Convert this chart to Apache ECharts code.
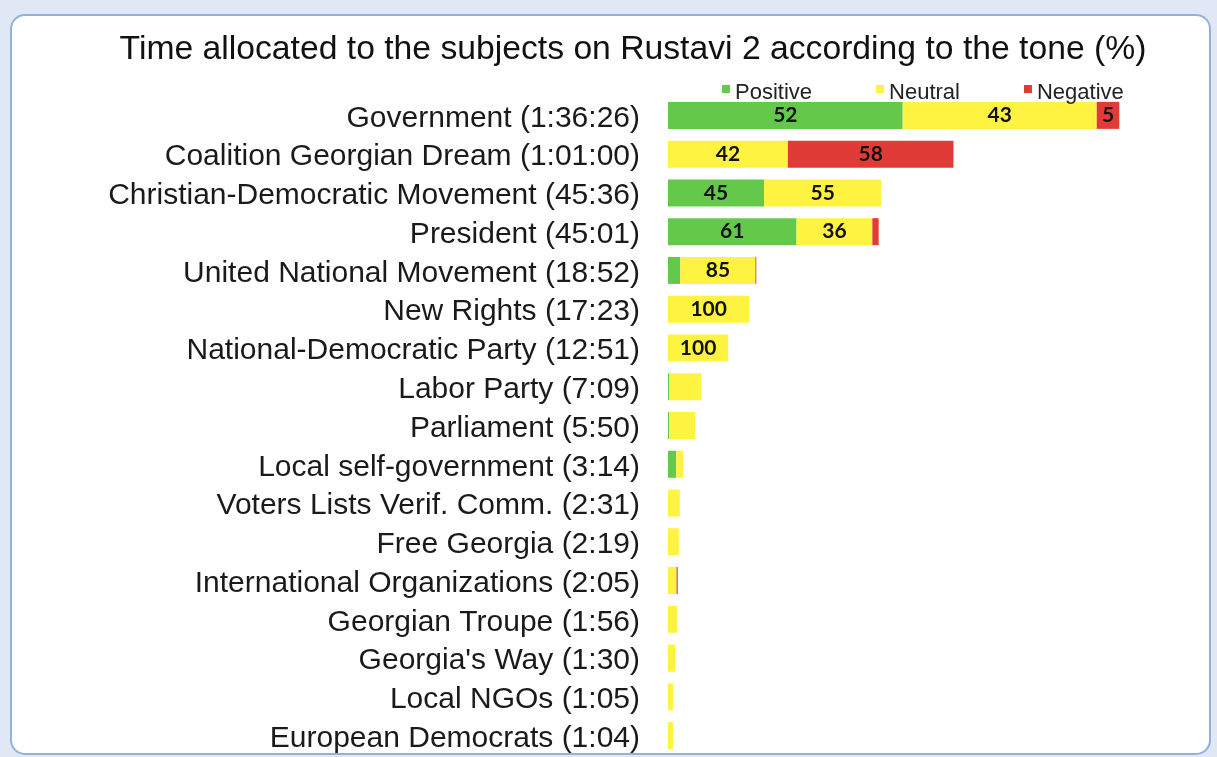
<!DOCTYPE html>
<html>
<head>
<meta charset="utf-8">
<script src="https://cdn.jsdelivr.net/npm/echarts@6/dist/echarts.min.js"></script>
<style>
    html, body { margin: 0; padding: 0; background: #dfe8f4; }
    #chart { width: 1217px; height: 757px; }
</style>
</head>
<body>
<div id="chart"></div>
<script>
// subjects, top to bottom
const subjects = [
    'Government', 'Coalition Georgian Dream', 'Christian-Democratic Movement', 'President',
    'United National Movement', 'New Rights', 'National-Democratic Party', 'Labor Party',
    'Parliament', 'Local self-government', 'Voters Lists Verif. Comm.', 'Free Georgia',
    'International Organizations', 'Georgian Troupe', "Georgia's Way", 'Local NGOs',
    'European Democrats'
];
// airtime (h:mm:ss or mm:ss)
const airtime = [
    '1:36:26', '1:01:00', '45:36', '45:01', '18:52', '17:23', '12:51', '7:09', '5:50',
    '3:14', '2:31', '2:19', '2:05', '1:56', '1:30', '1:05', '1:04'
];
// tone shares, %
const positive = [52, 0, 45, 61, 14, 0, 0, 3, 4, 55, 0, 0, 0, 0, 0, 0, 0];
const neutral = [43, 42, 55, 36, 85, 100, 100, 97, 96, 45, 100, 100, 88, 100, 100, 100, 100];
const negative = [5, 58, 0, 3, 1, 0, 0, 0, 0, 0, 0, 0, 12, 0, 0, 0, 0];

const toneNames = ['Positive', 'Neutral', 'Negative'];
const toneColors = ['#64c84a', '#fff342', '#e13b37'];
const sansFont = '"Liberation Sans", Arial, sans-serif';

function toSeconds(str) {
    return str.split(':').reduce(function(acc, p) { return acc * 60 + parseInt(p, 10) }, 0);
}

// small square sitting in the top half of the legend icon box
function squareIcon(color) {
    var svg = '<svg xmlns="http://www.w3.org/2000/svg" width="8" height="16" viewBox="0 0 8 16">' +
        '<rect x="0" y="0" width="8" height="8" fill="' + color + '"/></svg>';
    return 'image://data:image/svg+xml;charset=utf-8,' + encodeURIComponent(svg);
}

const seconds = airtime.map(toSeconds);
const categories = subjects.map(function(s, i) { return s + ' (' + airtime[i] + ')' });

var myChart = echarts.init(document.getElementById('chart'));

function makeSeries(name, pct, color) {
    return {
        name: name,
        type: 'bar',
        stack: 'tone',
        barWidth: 27,
        itemStyle: { color: color },
        label: {
            show: true,
            position: 'inside',
            color: '#111',
            fontFamily: 'Lato',
            fontWeight: 'bold',
            fontSize: 21,
            formatter: function(p) {
                var seg = p.value;
                // only wide segments of the longer bars carry a number
                if (seg < 250 || seconds[p.dataIndex] < 700) return '';
                return pct[p.dataIndex];
            }
        },
        emphasis: { disabled: true },
        data: seconds.map(function(t, i) { return t * pct[i] / 100 })
    };
}

var option = {
    backgroundColor: 'transparent',
    animation: false,
    graphic: [{
        type: 'rect',
        z: -10,
        shape: { x: 11, y: 15, width: 1199, height: 739, r: 14 },
        style: { fill: '#ffffff', stroke: '#93b1dc', lineWidth: 2 }
    }],
    title: {
        text: 'Time allocated to the subjects on Rustavi 2 according to the tone (%)',
        left: 628,
        textAlign: 'center',
        top: 28,
        textStyle: {
            fontFamily: sansFont,
            fontSize: 33.7,
            fontWeight: 'normal',
            color: '#111'
        }
    },
    legend: {
        data: toneNames.map(function(n, i) { return { name: n, icon: squareIcon(toneColors[i]) } }),
        left: 717,
        top: 77,
        itemWidth: 8,
        itemHeight: 16,
        itemGap: 64,
        textStyle: {
            fontFamily: sansFont,
            fontSize: 22,
            color: '#222'
        }
    },
    grid: {
        left: 668,
        right: 81,
        top: 96,
        bottom: 2,
        containLabel: false
    },
    xAxis: {
        type: 'value',
        min: 0,
        max: 6000,
        show: false
    },
    yAxis: {
        type: 'category',
        inverse: true,
        data: categories,
        axisLine: { show: false },
        axisTick: { show: false },
        axisLabel: {
            interval: 0,
            margin: 28,
            formatter: function(v) { return '{t|' + v + '}' },
            rich: {
                t: {
                    fontFamily: sansFont,
                    fontSize: 30,
                    color: '#1a1a1a',
                    padding: [6, 0, 0, 0]
                }
            }
        }
    },
    series: [
        makeSeries(toneNames[0], positive, toneColors[0]),
        makeSeries(toneNames[1], neutral, toneColors[1]),
        makeSeries(toneNames[2], negative, toneColors[2])
    ]
};
myChart.setOption(option);
</script>
</body>
</html>
